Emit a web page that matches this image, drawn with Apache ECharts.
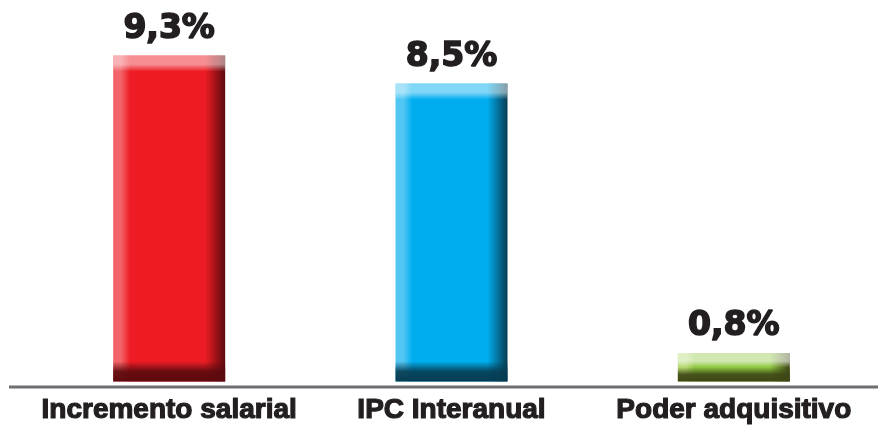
<!DOCTYPE html>
<html>
<head>
<meta charset="utf-8">
<style>
  html, body { margin: 0; padding: 0; background: #ffffff; }
  #chart { width: 878px; height: 425px; }
</style>
<script src="https://cdn.jsdelivr.net/npm/echarts@6/dist/echarts.min.js"></script>
</head>
<body>
<div id="chart"></div>
<script>
// Categories and their percentage values
const categories = ['Incremento salarial', 'IPC Interanual', 'Poder adquisitivo'];
const values = [9.3, 8.5, 0.8];

// Bevel palette per bar: [highlight edge, base, shadow edge]
const palettes = [
  ['#f2646a', '#ed1c24', '#5c0a0e'],
  ['#52c6f2', '#00aeef', '#073c52'],
  ['#b5d86f', '#8dc63f', '#3d4716']
];
const topTints = ['rgba(255,255,255,0.5)', 'rgba(255,255,255,0.5)', 'rgba(255,255,255,0.6)'];

const BAR_W = 112;

function fmt(v) {
  return v.toFixed(1).replace('.', ',') + '%';
}

function renderBar(params, api) {
  const i = params.dataIndex;
  const v = api.value(1);
  const top = api.coord([api.value(0), v]);
  const base = api.coord([api.value(0), 0]);
  const x = top[0] - BAR_W / 2;
  const y = top[1];
  const h = base[1] - top[1];
  const p = palettes[i];
  const topBand = Math.min(16, h / 2);
  const botBand = Math.min(20, h / 2);
  const lg = echarts.graphic.LinearGradient;
  return {
    type: 'group',
    children: [
      {
        type: 'rect',
        shape: { x: x, y: y, width: BAR_W, height: h },
        style: {
          fill: new lg(0, 0, 1, 0, [
            { offset: 0, color: p[0] },
            { offset: 0.07, color: p[0] },
            { offset: 0.15, color: p[1] },
            { offset: 0.82, color: p[1] },
            { offset: 1, color: p[2] }
          ])
        }
      },
      {
        type: 'rect',
        shape: { x: x, y: y, width: BAR_W, height: topBand },
        style: {
          fill: new lg(0, 0, 0, 1, [
            { offset: 0, color: topTints[i] },
            { offset: 0.55, color: topTints[i] },
            { offset: 1, color: 'rgba(255,255,255,0)' }
          ])
        }
      },
      {
        type: 'rect',
        shape: { x: x, y: base[1] - botBand, width: BAR_W, height: botBand },
        style: {
          fill: new lg(0, 0, 0, 1, [
            { offset: 0, color: echarts.color.modifyAlpha(p[2], 0) },
            { offset: 0.5, color: echarts.color.modifyAlpha(p[2], 0.9) },
            { offset: 1, color: p[2] }
          ])
        }
      },
      {
        type: 'text',
        style: {
          text: fmt(v),
          x: top[0],
          y: y - 10,
          align: 'center',
          verticalAlign: 'bottom',
          fill: '#231f20',
          stroke: '#231f20',
          lineWidth: 1.6,
          font: 'bold 33px "DejaVu Sans"'
        }
      }
    ]
  };
}

const chart = echarts.init(document.getElementById('chart'), null, { renderer: 'canvas' });

chart.setOption({
  animation: false,
  backgroundColor: '#ffffff',
  grid: { left: 28, right: 3, top: 31, bottom: 38 },
  xAxis: {
    type: 'category',
    data: categories,
    axisLine: { show: false },
    axisTick: { show: false },
    axisLabel: {
      margin: 15,
      color: '#231f20',
      textBorderColor: '#231f20',
      textBorderWidth: 1.2,
      fontFamily: 'Liberation Sans',
      fontWeight: 'bold',
      fontSize: 28,
      interval: 0
    }
  },
  yAxis: {
    type: 'value',
    min: 0,
    max: 10,
    show: false,
    splitLine: { show: false }
  },
  graphic: [
    {
      type: 'line',
      shape: { x1: 9, y1: 387, x2: 878, y2: 387 },
      style: { stroke: '#6d6e71', lineWidth: 3 },
      z: 10
    }
  ],
  series: [
    {
      type: 'custom',
      renderItem: renderBar,
      data: values.map((v, i) => [i, v]),
      clip: false
    }
  ]
});
</script>
</body>
</html>
